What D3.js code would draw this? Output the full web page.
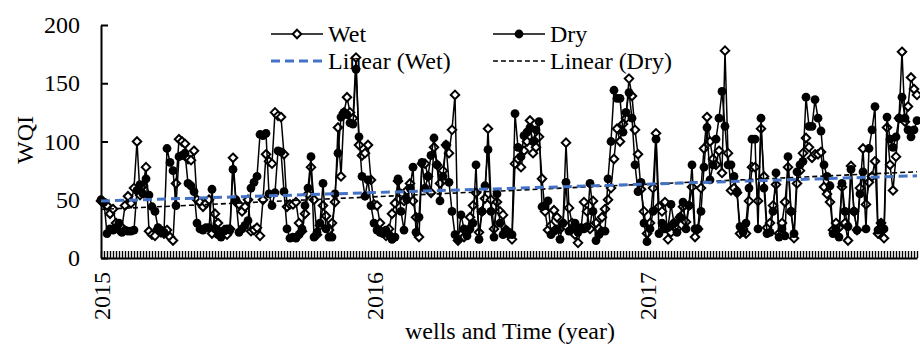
<!DOCTYPE html>
<html lang="en">
<head>
<meta charset="utf-8">
<title>WQI</title>
<style>
  body { margin: 0; background: #fff; }
  svg { display: block; }
  .axis path, .axis line { fill: none; stroke: #000; }
  .axis text { font-family: "Liberation Serif", "Times New Roman", serif; font-size: 24px; fill: #000; }
</style>
</head>
<body>
<script src="https://cdn.jsdelivr.net/npm/d3@7"></script>
<script>

var w = 920; // window size
var h = 348;

// data
var years = ["2015", "2016", "2017"];
var wellsPerYear = 91;
var yTicks = [0, 50, 100, 150, 200];

var wet = [
  49, 47, 45, 38, 42, 30, 24, 26, 45, 53,
  47, 60, 100, 54, 62, 78, 23, 20, 19, 25,
  22, 21, 24, 18, 15, 64, 102, 100, 98, 85,
  84, 92, 50, 48, 44, 47, 50, 21, 38, 30,
  22, 24, 20, 25, 86, 48, 46, 40, 44, 50,
  23, 24, 26, 19, 50, 89, 83, 81, 125, 122,
  121, 89, 44, 46, 46, 48, 30, 23, 38, 55,
  78, 50, 20, 28, 45, 36, 24, 30, 48, 112,
  70, 125, 138, 125, 120, 172, 97, 88, 90, 97,
  67, 46, 45, 30, 22, 19, 25, 38, 47, 66,
  55, 49, 58, 64, 49, 35, 18, 81, 81, 70,
  56, 95, 80, 64, 75, 97, 90, 110, 140, 15,
  20, 18, 22, 35, 45, 56, 22, 40, 51, 111,
  50, 25, 48, 40, 37, 24, 20, 16, 81, 85,
  78, 92, 100, 118, 90, 95, 104, 68, 40, 24,
  28, 41, 35, 25, 30, 99, 43, 30, 20, 13,
  25, 48, 40, 25, 49, 30, 25, 35, 42, 50,
  60, 85, 111, 100, 115, 120, 154, 139, 110, 89,
  59, 40, 21, 30, 60, 107, 44, 40, 48, 16,
  22, 30, 25, 35, 44, 31, 45, 61, 18, 25,
  60, 94, 121, 100, 85, 80, 92, 73, 178, 90,
  58, 60, 56, 21, 25, 21, 49, 78, 78, 49,
  111, 70, 26, 30, 45, 63, 21, 30, 48, 78,
  40, 17, 64, 75, 90, 103, 95, 86, 89, 89,
  91, 61, 55, 48, 24, 30, 26, 61, 30, 15,
  79, 40, 24, 60, 94, 46, 65, 70, 83, 21,
  30, 17, 112, 80, 58, 87, 120, 177, 117, 130,
  155, 145, 140
];

var dry = [
  50, 48, 21, 25, 24, 26, 30, 22, 24, 23,
  23, 24, 58, 63, 55, 68, 54, 44, 40, 26,
  24, 22, 94, 82, 75, 45, 87, 88, 90, 64,
  62, 57, 30, 25, 24, 26, 26, 59, 25, 20,
  18, 23, 25, 24, 76, 50, 22, 25, 28, 32,
  60, 65, 70, 106, 105, 107, 55, 45, 56, 92,
  91, 57, 25, 17, 18, 17, 20, 25, 45, 60,
  87, 18, 22, 30, 64, 25, 18, 18, 55, 90,
  121, 125, 123, 116, 115, 162, 104, 70, 53, 67,
  45, 30, 24, 22, 21, 24, 20, 16, 18, 68,
  40, 24, 50, 60, 78, 22, 35, 82, 60, 70,
  88, 103, 80, 49, 70, 97, 65, 40, 20, 16,
  37, 25, 19, 25, 30, 80, 16, 40, 62, 93,
  40, 18, 55, 30, 20, 24, 22, 20, 124, 95,
  87, 105, 108, 112, 100, 110, 117, 44, 45, 49,
  20, 23, 25, 16, 30, 65, 23, 25, 30, 22,
  26, 25, 27, 64, 40, 15, 20, 23, 23, 68,
  100, 144, 137, 137, 108, 125, 142, 120, 80, 57,
  65, 30, 14, 25, 40, 102, 21, 30, 25, 26,
  46, 30, 22, 35, 48, 25, 45, 80, 25, 25,
  40, 78, 112, 67, 80, 102, 120, 143, 113, 80,
  80, 70, 57, 27, 22, 30, 60, 102, 102, 25,
  120, 60, 21, 22, 40, 73, 18, 25, 19, 87,
  40, 21, 74, 80, 83, 138, 113, 113, 136, 120,
  109, 80, 70, 62, 21, 25, 18, 64, 40, 27,
  76, 40, 24, 55, 74, 25, 94, 110, 130, 24,
  30, 25, 121, 102, 95, 104, 120, 138, 120, 110,
  104, 110, 118
];

var n = wet.length;
var idx = d3.range(n);

var x0 = 101, x1 = 917, yTop = 25, yBot = 258;

var x = d3.scaleLinear().domain([0, n - 1]).range([x0, x1]);
var y = d3.scaleLinear().domain([0, 200]).range([yBot, yTop]);

var svg = d3.select("body").append("svg").attr("width", w).attr("height", h);

// y axis
svg.append("g")
  .attr("class", "axis")
  .attr("transform", "translate(" + x0 + ",0)")
  .call(d3.axisLeft(y).tickValues(yTicks).tickSizeInner(-7).tickSizeOuter(0).tickPadding(21))
  .selectAll("path, line").attr("stroke-width", 2);

// x axis: a tick for every well, labels only at year starts
svg.append("g")
  .attr("class", "axis")
  .attr("transform", "translate(0," + yBot + ")")
  .call(d3.axisBottom(x).tickValues(idx).tickSizeInner(-7).tickSizeOuter(0).tickFormat(""))
  .call(function(g){ g.select(".domain").attr("stroke-width", 2); g.selectAll(".tick line").attr("stroke-width", 1.4); });

var yearAxis = svg.append("g")
  .attr("class", "axis")
  .attr("transform", "translate(0," + yBot + ")")
  .call(d3.axisBottom(x).tickValues(years.map(function(d, i){ return i * wellsPerYear; }))
    .tickSize(0).tickFormat(function(d){ return years[d / wellsPerYear]; }));
yearAxis.select(".domain").remove();
yearAxis.selectAll("text")
  .attr("transform", "rotate(-90)")
  .attr("text-anchor", "end")
  .attr("x", -14).attr("y", 0).attr("dy", "0.35em");

// axis titles
svg.append("text")
  .attr("transform", "translate(33,140) rotate(-90)")
  .attr("text-anchor", "middle")
  .attr("font-family", "Liberation Serif, serif").attr("font-size", "24px")
  .text("WQI");
svg.append("text")
  .attr("x", 510).attr("y", 339)
  .attr("text-anchor", "middle")
  .attr("font-family", "Liberation Serif, serif").attr("font-size", "24px")
  .text("wells and Time (year)");

// series
var line = function(arr){
  return d3.line().x(function(d){ return x(d); }).y(function(d){ return y(arr[d]); })(idx);
};
// square turned 45 degrees, like the spreadsheet diamond marker
var diamond = d3.symbol().type({draw: function(ctx, size){
  var r = Math.sqrt(size / 2);
  ctx.moveTo(0, -r); ctx.lineTo(r, 0); ctx.lineTo(0, r); ctx.lineTo(-r, 0); ctx.closePath();
}}).size(36);

var gWet = svg.append("g");
gWet.append("path").attr("d", line(wet)).attr("fill", "none").attr("stroke", "#000").attr("stroke-width", 1.5);
gWet.selectAll("path.m").data(idx).enter().append("path").attr("class", "m")
  .attr("d", diamond)
  .attr("transform", function(d){ return "translate(" + x(d) + "," + y(wet[d]) + ")"; })
  .attr("fill", "#fff").attr("stroke", "#000").attr("stroke-width", 2);

var gDry = svg.append("g");
gDry.append("path").attr("d", line(dry)).attr("fill", "none").attr("stroke", "#000").attr("stroke-width", 1.5);
gDry.selectAll("circle").data(idx).enter().append("circle")
  .attr("cx", function(d){ return x(d); })
  .attr("cy", function(d){ return y(dry[d]); })
  .attr("r", 4.4).attr("fill", "#000");

// linear trend (least squares on well number)
function trend(arr){
  var mx = d3.mean(idx), my = d3.mean(arr);
  var sxy = d3.sum(idx, function(i){ return (i - mx) * (arr[i] - my); });
  var sxx = d3.sum(idx, function(i){ return (i - mx) * (i - mx); });
  var b = sxy / sxx, a = my - b * mx;
  return [[0, a], [n - 1, a + b * (n - 1)]];
}
var tl = d3.line().x(function(d){ return x(d[0]); }).y(function(d){ return y(d[1]); });
svg.append("path").attr("d", tl(trend(dry))).attr("fill", "none")
  .attr("stroke", "#000").attr("stroke-width", 1.6).attr("stroke-dasharray", "5,3");
svg.append("path").attr("d", tl(trend(wet))).attr("fill", "none")
  .attr("stroke", "#4472C4").attr("stroke-width", 3).attr("stroke-dasharray", "9,5");

// legend
var leg = svg.append("g").attr("font-family", "Liberation Serif, serif").attr("font-size", "24px");
var items = [
  {label: "Wet", x: 271, y: 34, kind: "wet"},
  {label: "Dry", x: 493, y: 34, kind: "dry"},
  {label: "Linear (Wet)", x: 271, y: 61, kind: "twet"},
  {label: "Linear (Dry)", x: 493, y: 61, kind: "tdry"}
];
items.forEach(function(it){
  var g = leg.append("g").attr("transform", "translate(" + it.x + "," + it.y + ")");
  var ln = g.append("line").attr("x1", 0).attr("x2", 52).attr("y1", 0).attr("y2", 0);
  if (it.kind == "wet") {
    ln.attr("stroke", "#000").attr("stroke-width", 1.5);
    g.append("path").attr("d", diamond).attr("transform", "translate(26,0)")
      .attr("fill", "#fff").attr("stroke", "#000").attr("stroke-width", 2);
  } else if (it.kind == "dry") {
    ln.attr("stroke", "#000").attr("stroke-width", 1.5);
    g.append("circle").attr("cx", 26).attr("cy", 0).attr("r", 4.4).attr("fill", "#000");
  } else if (it.kind == "twet") {
    ln.attr("stroke", "#4472C4").attr("stroke-width", 3).attr("stroke-dasharray", "9,5");
  } else {
    ln.attr("stroke", "#000").attr("stroke-width", 1.6).attr("stroke-dasharray", "5,3");
  }
  g.append("text").attr("x", 57).attr("dy", "0.33em").text(it.label);
});

</script>
</body>
</html>
